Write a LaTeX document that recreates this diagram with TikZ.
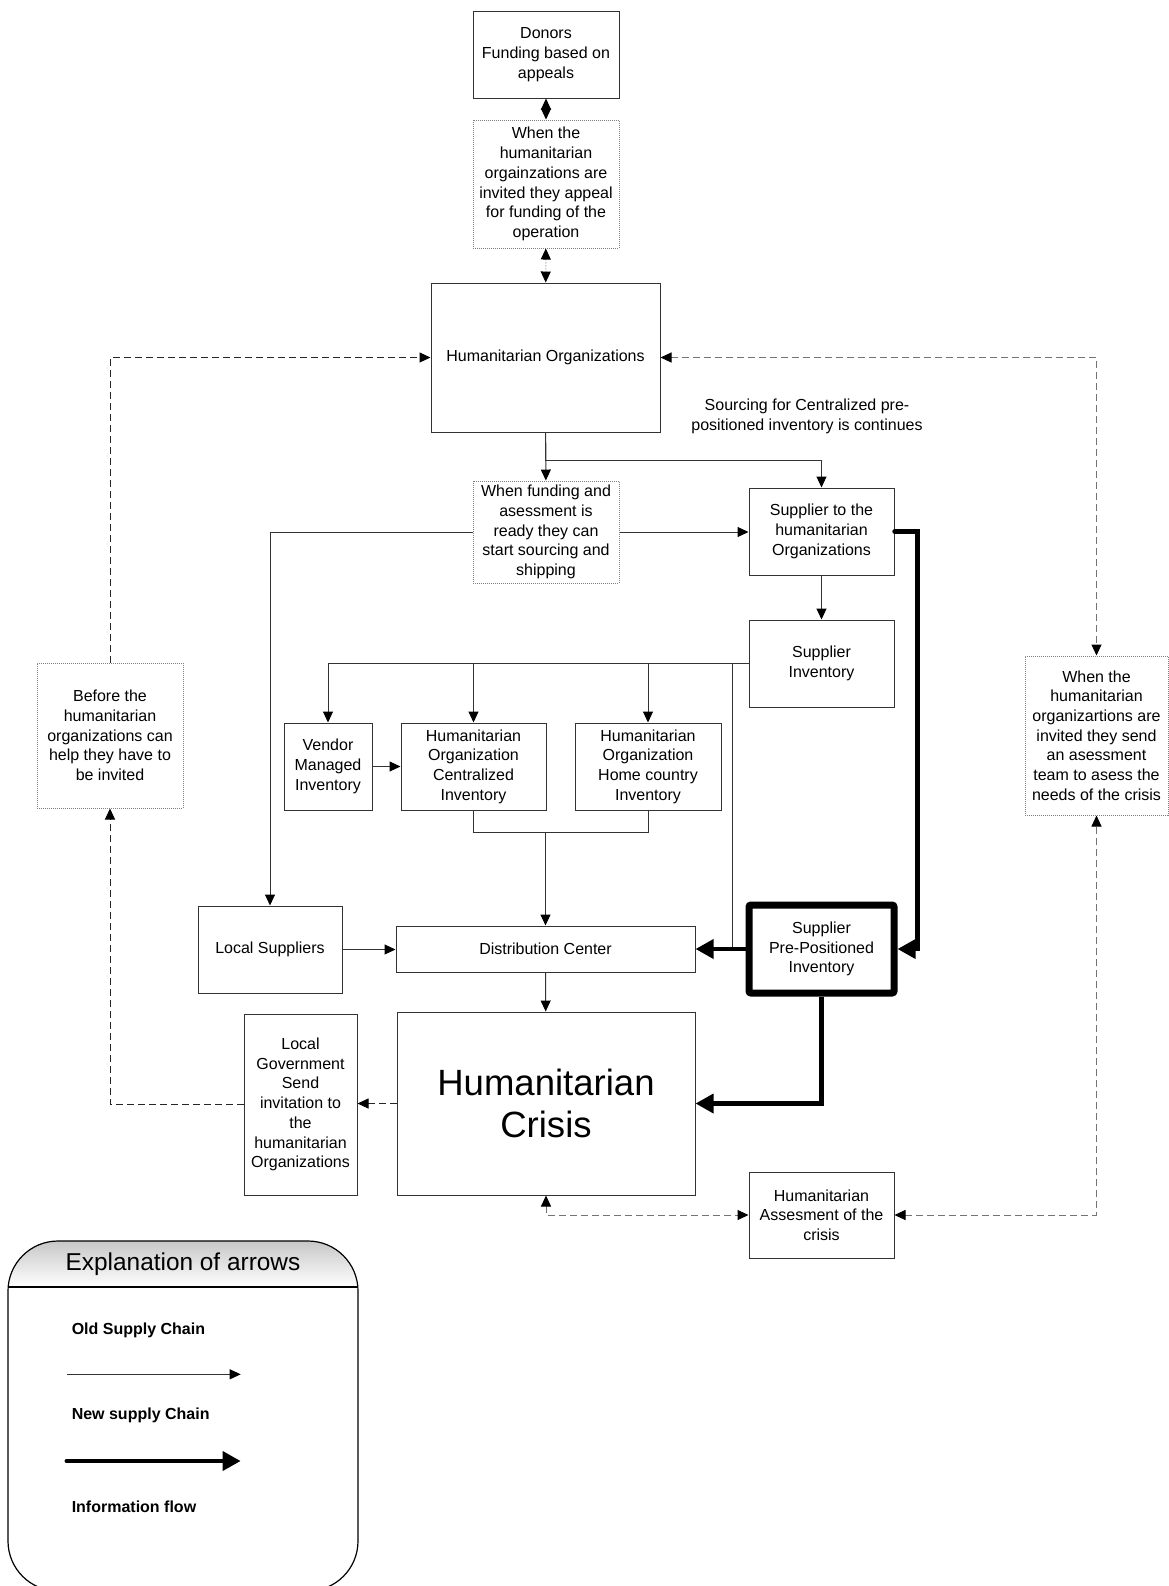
\documentclass[tikz,border=0pt]{standalone}
\usepackage{fontspec}
\setmainfont{Liberation Sans}
\usetikzlibrary{arrows.meta}
\begin{document}
\begin{tikzpicture}[x=0.75pt,y=-0.75pt,
  >={Triangle[length=8.25pt,width=7.5pt,color=black]},
  txt/.style={font=\fontsize{12pt}{14.8pt}\selectfont, align=center},
  wh/.style 2 args={minimum width={#1*0.75pt}, minimum height={#2*0.75pt}},
  box/.style={txt, draw=black!80, line width=0.75pt, inner sep=0pt},
  dotbox/.style={box, draw=black!50, dash pattern=on 0.75pt off 0.75pt},
  ppbox/.style={box, draw=black, line width=5.25pt, rounded corners=1.5pt},
  old/.style={draw=black!80, line width=0.75pt},
  new/.style={draw=black, line width=3.3pt, -{Triangle[length=13.5pt,width=14pt]}},
  info/.style={draw=black!85, line width=0.75pt, dash pattern=on 5.25pt off 3pt},
  infog/.style={info, draw=black!55},
  leglabel/.style={anchor=west, inner sep=0pt, font=\bfseries\fontsize{12pt}{14pt}\selectfont},
]
\useasboundingbox (0,0) rectangle (1169,1586);
\clip (0,0) rectangle (1169,1586);

% ---------- boxes ----------
\node[box, wh={146}{87}] (donors) at (546,54.5) {Donors\\Funding based on\\appeals};
\node[dotbox, wh={146}{128}] (appeal) at (546,184) {When the\\humanitarian\\orgainzations are\\invited they appeal\\for funding of the\\operation};
\node[box, wh={229}{149}] (ho) at (545.5,357.5) {Humanitarian Organizations};
\node[txt] (srcnote) at (807,416) {Sourcing for Centralized pre-\\positioned inventory is continues};
\node[dotbox, wh={146}{102}] (funding) at (546,532) {When funding and\\asessment is\\ready they can\\start sourcing and\\shipping};
\node[box, wh={145}{87}] (sup) at (821.5,531.5) {Supplier to the\\humanitarian\\Organizations};
\node[box, wh={145}{87}] (supinv) at (821.5,663.5) {Supplier\\Inventory};
\node[box, wh={88}{87}] (vmi) at (328,766.5) {Vendor\\Managed\\Inventory};
\node[box, wh={145}{87}] (central) at (473.5,766.5) {Humanitarian\\Organization\\Centralized\\Inventory};
\node[box, wh={146}{87}] (home) at (648,766.5) {Humanitarian\\Organization\\Home country\\Inventory};
\node[box, wh={144}{87}] (local) at (270,949.5) {Local Suppliers};
\node[box, wh={299}{46}] (dc) at (545.5,949) {Distribution Center};
\node[ppbox, wh={145}{88}] (pp) at (821.5,949) {Supplier\\Pre-Positioned\\Inventory};
\node[box, wh={298}{183}, font=\fontsize{27.4pt}{31.9pt}\selectfont] (crisis) at (546,1103.5) {Humanitarian\\Crisis};
\node[box, wh={113}{181}] (lg) at (300.5,1104.5) {Local\\Government\\Send\\invitation to\\the\\humanitarian\\Organizations};
\node[box, wh={145}{86}] (assess) at (821.5,1215) {Humanitarian\\Assesment of the\\crisis};
\node[dotbox, wh={146}{145}] (before) at (110,735.5) {Before the\\humanitarian\\organizations can\\help they have to\\be invited};
\node[dotbox, wh={143}{159}] (right) at (1096.5,735.5) {When the\\humanitarian\\organizartions are\\invited they send\\an asessment\\team to asess the\\needs of the crisis};

% ---------- old supply chain ----------
\draw[old,<->] (donors) -- (appeal);
\draw[old,draw=black!50,dash pattern=on 0.75pt off 1.5pt,<->] (appeal) -- (ho);
\draw[old,->] (ho) -- (funding);
\coordinate (brsup) at (821.5,460);
\draw[old,->] (ho.south) |- (brsup) -- (sup.north);
\draw[old,->] (funding.east) -- (funding.east -| sup.west);
\draw[old,->] (funding.west) -| (local.north);
\draw[old,->] (sup) -- (supinv);
\draw[old,->] (supinv.west) -| (vmi.north);
\draw[old,->] (supinv.west -| central.north) -- (central.north);
\draw[old,->] (supinv.west -| home.north) -- (home.north);
\coordinate (sidetop) at (732,663.5);
\coordinate (sidebot) at (732,949);
\draw[old] (sidetop) -- (sidebot);
\draw[old,->] (vmi) -- (central);
\coordinate (merge) at (545.5,832);
\draw[old] (central.south) |- (merge);
\draw[old] (home.south) |- (merge);
\draw[old,->] (merge) -- (dc.north);
\draw[old,->] (local.east) -- (local.east -| dc.west);
\draw[old,->] (dc) -- (crisis);

% ---------- new supply chain ----------
\draw[new] (pp) -- (dc);
\draw[new,line cap=round] (sup.east) -- ++(23,0) |- (pp.east);
\draw[new] (pp.south) |- (crisis.east);

% ---------- information flow ----------
\draw[info,->] (crisis.west) -- (crisis.west -| lg.east);
\draw[info,->] (lg.west) -| (before.south);
\draw[info,->] (before.north) |- (ho.west);
\draw[infog,<->] (ho.east) -| (right.north);
\draw[infog,<->] (crisis.south) |- (assess.west);
\draw[infog,<->] (assess.east) -| (right.south);

% ---------- legend ----------
\begin{scope}
  \clip[rounded corners=37.5pt] (8,1241) rectangle (358,1591);
  \shade[top color=black!22, bottom color=white] (8,1241) rectangle (358,1287);
\end{scope}
\draw[line width=0.9pt, rounded corners=37.5pt] (8,1241) rectangle (358,1591);
\draw[line width=0.9pt] (8,1287) -- (358,1287);
\node[font=\fontsize{18.3pt}{22pt}\selectfont] (legtitle) at (183,1264) {Explanation of arrows};
\node[leglabel] (lgold) at (71.5,1330) {Old Supply Chain};
\node[leglabel] (lgnew) at (71.5,1415) {New supply Chain};
\node[leglabel] (lginfo) at (71.5,1507) {Information flow};
\coordinate (oldA) at (66.7,1374.3);
\coordinate (oldB) at (240.7,1374.3);
\draw[old,->] (oldA) -- (oldB);
\coordinate (newA) at (66.7,1461);
\coordinate (newB) at (240.7,1461);
\draw[new,line cap=round] (newA) -- (newB);
\end{tikzpicture}
\end{document}
